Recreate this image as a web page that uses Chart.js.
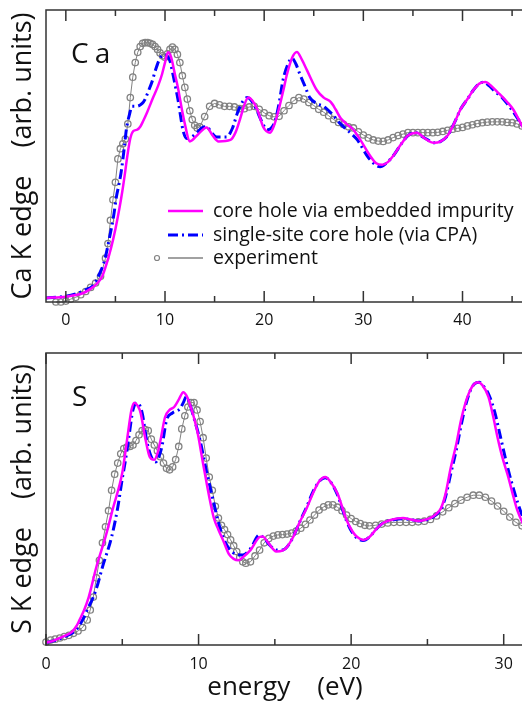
<!DOCTYPE html>
<html>
<head>
<meta charset="utf-8">
<title>Ca K edge / S K edge</title>
<script src="https://cdn.jsdelivr.net/npm/chart.js@4.4.1/dist/chart.umd.min.js"></script>
<style>
  html, body { margin: 0; padding: 0; background: #fff; overflow: hidden; }
  body { width: 522px; height: 704px; position: relative; }
  canvas { position: absolute; left: 0; }
</style>
</head>
<body>
<canvas id="grafico-ca" width="530" height="340" style="top:0"></canvas>
<canvas id="grafico-s" width="530" height="364" style="top:340px"></canvas>
<script>
var FONTE = '"Open Sans", "DejaVu Sans", sans-serif';

// ticks do eixo x (so os multiplos de 10 levam rotulo)
var caTicks = [0, 5, 10, 15, 20, 25, 30, 35, 40, 45];
var sTicks = [0, 5, 10, 15, 20, 25, 30];

var rotulos = ['core hole via embedded impurity', 'single-site core hole (via CPA)', 'experiment'];

// ---- Ca K edge ----
var caImpE = [-2, 0, 1, 1.7, 2.5, 3.2, 3.7, 4.1, 4.6, 5.0, 5.4, 5.7, 6.0, 6.2, 6.5, 6.8, 7.2, 7.5, 7.8, 8.2,
  8.8, 9.3, 9.7, 10.0, 10.3, 10.6, 11.0, 11.3, 11.7, 12.0, 12.5, 13.3, 14.2, 14.8, 15.4, 16.6, 17.1, 17.6, 18.0, 18.4,
  18.8, 19.3, 19.9, 20.6, 21.0, 21.4, 21.9, 22.3, 22.8, 23.3, 23.8, 24.3, 25.3, 26.0, 26.7, 27.2, 27.7, 28.3, 29.0, 29.7,
  30.7, 31.3, 31.9, 32.5, 33.0, 33.8, 34.5, 35.4, 36.2, 37.1, 37.8, 38.5, 39.2, 39.8, 40.5, 41.1, 41.7, 42.3, 42.9, 43.5,
  44.5, 45.1, 45.6, 46.2];
var caImpY = [1.4, 1.8, 2.4, 3, 4.5, 6.5, 9, 13, 19, 25, 32, 38, 45, 50, 56, 58.5, 59, 60, 62, 65,
  70, 74, 78, 82, 85.5, 84, 78, 73.5, 66, 61, 55, 57.3, 59.8, 57, 55, 55.5, 58, 63, 67.5, 70,
  69, 66, 60, 58, 60.5, 65, 72, 78, 83.5, 85.6, 83, 79.5, 72.6, 70, 68.5, 66, 63, 61, 59, 55.5,
  50, 47.5, 47, 48, 50, 54, 57, 58, 56, 54.5, 55, 57, 61.5, 66, 69.5, 72.6, 74.8, 75.3, 74, 72,
  68.5, 66, 63, 59];

var caCpaE = [-2, 0, 1, 2, 2.7, 3.1, 3.5, 3.8, 4.1, 4.4, 4.8, 5.1, 5.4, 5.6, 5.9, 6.1, 6.4, 6.7, 7.1, 7.7,
  8.0, 8.3, 8.7, 9.0, 9.5, 10.0, 10.5, 10.8, 11.1, 11.3, 11.6, 11.8, 12.2, 12.7, 13.2, 13.8, 14.2, 14.7, 15.2, 16.2,
  16.8, 17.3, 17.8, 18.3, 18.7, 19.2, 19.8, 20.3, 20.7, 21.1, 21.5, 21.9, 22.4, 22.8, 23.2, 23.6, 24.1, 24.6, 25.3, 26.0,
  26.8, 27.7, 28.5, 29.4, 30.4, 31.2, 31.7, 32.3, 33.0, 33.8, 34.5, 35.3, 36.0, 36.5, 37.1, 37.8, 38.5, 39.2, 39.8, 40.5,
  41.1, 41.6, 42.1, 42.7, 43.3, 44.0, 44.6, 45.2, 46.2];
var caCpaY = [1.4, 2.0, 2.8, 4.2, 5.5, 7.5, 10.5, 13, 17, 22, 29, 36, 41, 45, 53, 59, 64, 67, 67, 68,
  69.5, 72, 75.5, 79, 83.5, 84.6, 82.5, 78, 73, 69.5, 63, 59, 56, 56.5, 58, 59.8, 60, 58, 56.5, 56.5,
  59.5, 64.7, 68.5, 70, 69, 66, 61.5, 59, 59.5, 62, 68, 76, 81.5, 83.5, 81.5, 78, 74, 70, 68, 67,
  64.5, 61, 58.5, 55.5, 50, 47, 46.3, 47.5, 50, 54, 57, 58, 56.5, 55.5, 54.5, 55, 57, 61.5, 66, 69.5,
  72.6, 74.6, 75.3, 74, 72, 70, 67.5, 64.7, 59.5];

var caExpE = [-1, -0.5, 0, 0.5, 1, 1.5, 2, 2.5, 3, 3.5,
  4, 4.25, 4.5, 4.75, 5, 5.25, 5.5, 5.75, 6, 6.25,
  6.5, 6.75, 7, 7.25, 7.5, 7.75, 8, 8.25, 8.5, 8.75,
  9, 9.25, 9.5, 9.75, 10, 10.25, 10.5, 10.75, 11, 11.25,
  11.5, 11.75, 12, 12.25, 12.5, 12.75, 13, 13.25, 13.5, 14,
  14.5, 15, 15.5, 16, 16.5, 17, 17.5, 18, 18.5, 19,
  19.5, 20, 20.5, 21, 21.5, 22, 22.5, 23, 23.5, 24,
  24.5, 25, 25.5, 26, 26.5, 27, 27.5, 28, 28.5, 29,
  29.5, 30, 30.5, 31, 31.5, 32, 32.5, 33, 33.5, 34,
  34.5, 35, 35.5, 36, 36.5, 37, 37.5, 38, 38.5, 39,
  39.5, 40, 40.5, 41, 41.5, 42, 42.5, 43, 43.5, 44,
  44.5, 45, 45.5, 46];
var caExpY = [0, 0, 0.3, 1.0, 1.6, 2.5, 3.6, 5.0, 6.5, 8.8,
  15, 20, 28, 35, 41, 49, 52.5, 54.2, 55.8, 61,
  70, 77, 82, 85.5, 87.5, 88.6, 88.8, 88.8, 88.6, 88.2,
  87.5, 86.5, 85.3, 84.3, 83.8, 85, 86.5, 87.3, 86.5, 84.8,
  82, 77.5, 73.5, 69.5, 65.5, 62.5, 60.5, 59.6, 60, 63.5,
  67, 68, 67.5, 67, 67, 66.8, 66.2, 66.2, 66.8, 67,
  66, 64.8, 63.8, 63.4, 63.6, 65.5, 67.3, 69, 70, 69.5,
  68.3, 67.3, 66, 65, 63.8, 62.5, 61.5, 60.8, 60, 59.6,
  58.3, 57.2, 56.2, 55.5, 55.1, 55.0, 55.5, 56.3, 57, 57.5,
  58, 58, 58, 58, 58, 58, 58.1, 58.4, 58.8, 59.2,
  59.5, 59.8, 60.3, 60.7, 61.1, 61.4, 61.6, 61.7, 61.7, 61.7,
  61.5, 61.4, 61, 60.3];

// ---- S K edge ----
var sImpE = [0, 0.5, 0.9, 1.3, 1.7, 2.0, 2.2, 2.5, 2.8, 3.3, 3.9, 4.4, 5.0, 5.2, 5.4, 5.6, 5.8, 6.0, 6.2, 6.5,
  6.8, 7.1, 7.3, 7.5, 7.8, 8.1, 8.4, 8.7, 9.0, 9.2, 9.4, 9.9, 10.3, 10.7, 11.0, 11.3, 11.6, 12.0, 12.3, 12.6,
  13.0, 13.4, 14.0, 14.2, 14.5, 15.1, 15.5, 15.8, 16.2, 16.6, 17.1, 17.5, 17.9, 18.3, 18.7, 19.1, 19.7, 20.1, 20.4, 20.8,
  21.2, 21.7, 22.1, 22.7, 23.4, 23.9, 24.4, 24.8, 25.2, 25.6, 25.9, 26.2, 26.5, 26.9, 27.2, 27.5, 27.7, 28.0, 28.3, 28.6,
  29.0, 29.3, 29.6, 29.9, 30.3, 30.6, 30.9, 31.4];
var sImpY = [0.8, 1.5, 2.4, 3.3, 4.5, 6.5, 8.6, 12, 16.4, 26.7, 37, 47, 59, 66, 73.6, 80.5, 83, 82, 79.5, 71,
  64.4, 63.4, 65.5, 70, 78, 80.5, 81.5, 84, 86.6, 85.5, 83, 73.6, 62, 50.7, 43.5, 39.5, 36, 31, 29.5, 29,
  30.5, 32.5, 37, 37.2, 35.5, 32, 32.3, 33.6, 37, 41.8, 47, 52, 56, 57.5, 55.5, 52, 42.8, 38.8, 37, 36,
  37, 40, 41.8, 43, 43.5, 43, 42.5, 42.8, 43.5, 45, 47, 52, 60, 69, 77, 83, 86, 89, 90, 89,
  85, 78.5, 71, 64.5, 57.5, 51.5, 46, 40];

var sCpaE = [0, 0.5, 1.0, 1.5, 2.0, 2.4, 2.7, 3.1, 3.4, 3.7, 4.3, 4.7, 5.0, 5.2, 5.4, 5.7, 6.0, 6.3, 6.6, 6.9,
  7.2, 7.4, 7.6, 7.9, 8.3, 8.8, 9.0, 9.2, 9.4, 9.6, 10.1, 10.5, 11.0, 11.3, 11.6, 12.0, 12.5, 12.9, 13.4, 14.0,
  14.3, 14.7, 15.1, 15.5, 15.8, 16.2, 16.6, 17.1, 17.5, 17.9, 18.3, 18.7, 19.1, 19.7, 20.1, 20.5, 20.8, 21.2, 21.7, 22.1,
  22.7, 23.4, 23.9, 24.4, 24.8, 25.2, 25.6, 25.9, 26.2, 26.5, 26.9, 27.2, 27.5, 27.8, 28.1, 28.4, 28.7, 29.0, 29.4, 29.8,
  30.2, 30.5, 30.9, 31.4];
var sCpaY = [0.8, 1.4, 2.3, 3.5, 5.3, 8.6, 12, 16.4, 21, 26.7, 37, 47, 57, 63, 70, 80.5, 83, 79.5, 70, 64.4,
  62.7, 64.5, 68, 77, 79.5, 81, 83, 85, 83, 79.5, 70, 60, 48.6, 42, 37, 33, 31, 30.8, 33, 37.7,
  36.5, 34, 32.5, 32.5, 33.6, 37, 41.8, 47.5, 52.5, 56, 57.3, 55.5, 51.5, 42.5, 38.3, 36.2, 35.8, 37, 40, 41.8,
  42.8, 43.2, 43, 42.5, 42.7, 43.3, 44.8, 46.5, 51, 58, 67, 75, 82, 87, 89.5, 90, 88.5, 86, 80, 71,
  62, 56, 49, 41.5];

var sExpE = [0, 0.3, 0.6, 0.9, 1.2, 1.5, 1.8, 2.1, 2.4, 2.7,
  2.9, 3.1, 3.3, 3.5, 3.7, 3.9, 4.1, 4.3, 4.5, 4.7,
  4.9, 5.1, 5.3, 5.5, 5.7, 5.9, 6.1, 6.3, 6.5, 6.7,
  6.9, 7.1, 7.3, 7.5, 7.7, 7.9, 8.1, 8.3, 8.5, 8.7,
  8.9, 9.1, 9.3, 9.5, 9.7, 9.9, 10.1, 10.3, 10.5, 10.7,
  10.9, 11.1, 11.3, 11.5, 11.7, 11.9, 12.1, 12.3, 12.5, 12.7,
  12.9, 13.1, 13.4, 13.7, 14.0, 14.3, 14.6, 14.9, 15.2, 15.5,
  15.8, 16.1, 16.4, 16.7, 17.0, 17.3, 17.6, 17.9, 18.2, 18.5,
  18.8, 19.1, 19.4, 19.7, 20.0, 20.3, 20.6, 20.9, 21.2, 21.6,
  22.0, 22.4, 22.8, 23.2, 23.6, 24.0, 24.4, 24.8, 25.2, 25.6,
  26.0, 26.4, 26.8, 27.2, 27.6, 28.0, 28.4, 28.8, 29.2, 29.6,
  30.0, 30.4, 30.8, 31.2];
var sExpY = [1.0, 1.7, 2.0, 2.4, 2.9, 3.3, 4.0, 4.8, 6.0, 8.6,
  12, 16.4, 23, 29, 35, 40.5, 46, 53, 58.5, 62.3,
  65.5, 67.3, 67.8, 68, 68.5, 70, 72, 73.4, 73.8, 73.4,
  70.5, 68.5, 66.5, 64.5, 62.3, 60.5, 60, 61, 63.5, 68,
  74, 78.5, 81.5, 83, 83, 80.5, 76.5, 71, 64, 57.5,
  53, 47.5, 43.5, 41, 39.5, 37.8, 36, 34, 32, 30,
  28.5, 28, 28.5, 30.5, 32.5, 35, 36.5, 37.3, 37.7, 37.8,
  38, 38.3, 39, 40, 41.3, 42.8, 44.5, 46.2, 47.3, 48,
  48, 47.2, 46, 44.5, 43.3, 42.3, 41.6, 41, 40.8, 41,
  41.4, 41.8, 42, 42, 42, 42, 42.2, 42.4, 43, 44.2,
  45.6, 47, 48.4, 49.6, 50.6, 51.3, 51.3, 50.6, 49.3, 47.6,
  45.8, 43.8, 42, 40.8];

function pares(xs, ys) {
  return xs.map(function (x, i) { return { x: x, y: ys[i] }; });
}

function conjuntos(impE, impY, cpaE, cpaY, expE, expY) {
  return [{
    label: rotulos[0],
    data: pares(impE, impY),
    borderColor: '#ff00ff',
    borderWidth: 2.5,
    pointRadius: 0,
    cubicInterpolationMode: 'monotone'
  }, {
    label: rotulos[1],
    data: pares(cpaE, cpaY),
    borderColor: '#0000ff',
    borderWidth: 3,
    borderDash: [10, 4, 2, 4],
    pointRadius: 0,
    cubicInterpolationMode: 'monotone'
  }, {
    label: rotulos[2],
    data: pares(expE, expY),
    borderColor: '#828282',
    borderWidth: 1,
    pointRadius: 3.2,
    pointBorderWidth: 1.3,
    pointBorderColor: '#828282',
    pointBackgroundColor: 'rgba(255,255,255,0)',
    tension: 0,
    clip: 5
  }];
}

// moldura, ticks para dentro, rotulo do painel e legenda
var moldura = {
  id: 'moldura',
  afterDraw: function (chart, args, o) {
    var ctx = chart.ctx, a = chart.chartArea, sx = chart.scales.x;
    ctx.save();
    ctx.strokeStyle = '#333';
    ctx.lineWidth = 1.5;
    ctx.strokeRect(a.left, a.top, a.right - a.left, a.bottom - a.top);
    sx.ticks.forEach(function (t) {
      var px = sx.getPixelForValue(t.value);
      var len = t.value % 10 === 0 ? 11 : 6;
      ctx.beginPath();
      ctx.moveTo(px, a.bottom); ctx.lineTo(px, a.bottom - len);
      ctx.moveTo(px, a.top); ctx.lineTo(px, a.top + len);
      ctx.stroke();
    });

    ctx.fillStyle = '#111';
    ctx.font = '28px ' + FONTE;
    ctx.textBaseline = 'alphabetic';
    ctx.letterSpacing = '6px';
    ctx.fillText(o.rotulo, o.rx, o.ry);
    ctx.letterSpacing = '0px';

    if (o.legenda) {
      var ys = [211, 235, 258];
      chart.data.datasets.forEach(function (ds, i) {
        var y = ys[i];
        ctx.strokeStyle = ds.borderColor;
        ctx.lineWidth = ds.pointRadius ? 1.5 : ds.borderWidth;
        ctx.setLineDash(ds.borderDash || []);
        ctx.beginPath(); ctx.moveTo(168, y); ctx.lineTo(203, y); ctx.stroke();
        ctx.setLineDash([]);
        if (ds.pointRadius) {
          ctx.lineWidth = 1.2;
          ctx.beginPath(); ctx.arc(157, y, 2.5, 0, 2 * Math.PI); ctx.stroke();
        }
        ctx.fillStyle = '#111';
        ctx.font = '19.5px ' + FONTE;
        ctx.textBaseline = 'middle';
        ctx.fillText(ds.label, 213, y);
      });
    }
    ctx.restore();
  }
};

function montarGrafico(id, dados, xmin, xmax, ticks, tituloY, tituloX, padTop, alturaX, padTicks, painel) {
  var ctx = document.getElementById(id).getContext('2d');
  return new Chart(ctx, {
    type: 'line',
    data: { datasets: dados },
    plugins: [moldura],
    options: {
      responsive: false,
      animation: false,
      events: [],
      layout: { padding: { top: padTop, right: 6, left: 0, bottom: 0 } },
      plugins: {
        legend: { display: false },
        tooltip: { enabled: false },
        moldura: painel
      },
      scales: {
        x: {
          type: 'linear',
          min: xmin,
          max: xmax,
          afterBuildTicks: function (s) { s.ticks = ticks.map(function (v) { return { value: v }; }); },
          afterFit: function (s) { s.height = alturaX; },
          ticks: {
            autoSkip: false,
            maxRotation: 0,
            padding: padTicks,
            color: '#111',
            font: { family: FONTE, size: 16 },
            callback: function (v) { return v % 10 === 0 ? v : ''; }
          },
          grid: { display: false, drawTicks: false },
          border: { display: false },
          title: {
            display: !!tituloX,
            text: tituloX,
            color: '#111',
            font: { family: FONTE, size: 26 },
            padding: { top: 0, bottom: 1 }
          }
        },
        y: {
          min: 0,
          max: 100,
          afterFit: function (s) { s.width = 46; },
          ticks: { display: false },
          grid: { display: false, drawTicks: false },
          border: { display: false },
          title: {
            display: true,
            text: tituloY,
            color: '#111',
            font: { family: FONTE, size: 27 },
            padding: { top: 7, bottom: 0 }
          }
        }
      }
    }
  });
}

var graficoCa = montarGrafico('grafico-ca',
  conjuntos(caImpE, caImpY, caCpaE, caCpaY, caExpE, caExpY),
  -2, 46.2, caTicks, 'Ca K edge    (arb. units)', '', 10, 38, 8.5,
  { rotulo: 'Ca', rx: 71, ry: 63, legenda: true });

var graficoS = montarGrafico('grafico-s',
  conjuntos(sImpE, sImpY, sCpaE, sCpaY, sExpE, sExpY),
  0, 31.33, sTicks, 'S K edge    (arb. units)', 'energy    (eV)', 13, 59, 10,
  { rotulo: 'S', rx: 72, ry: 66, legenda: false });
</script>
</body>
</html>
